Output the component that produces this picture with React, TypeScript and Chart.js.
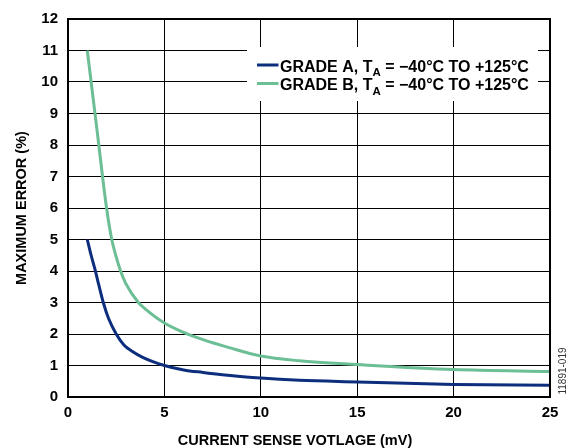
import React, { useEffect, useRef } from "react";
import { Chart, registerables } from "chart.js";

Chart.register(...registerables);

// Grade A series
const xA = [1, 1.2, 1.4, 1.6, 1.83, 2.1, 2.5, 2.9, 3.3, 3.9, 5, 6, 7, 8, 10, 12, 15, 20, 25];
const yA = [5.0, 4.5, 4.05, 3.55, 3.0, 2.5, 2.0, 1.65, 1.46, 1.25, 1.0, 0.86, 0.78, 0.71, 0.6, 0.53, 0.48, 0.4, 0.37];
// Grade B series
const xB = [1, 1.5, 2, 2.27, 2.5, 2.7, 3, 3.65, 4, 5, 6, 7, 8.4, 10, 12, 15, 20, 25];
const yB = [11, 8.5, 6.0, 5.0, 4.45, 4.05, 3.6, 3.0, 2.8, 2.35, 2.05, 1.82, 1.56, 1.3, 1.15, 1.03, 0.87, 0.81];

const xTicks = [0, 5, 10, 15, 20, 25];
const yTicks = [0, 1, 2, 3, 4, 5, 6, 7, 8, 9, 10, 11, 12];
const legendMain = ["GRADE A, T", "GRADE B, T"];
const legendSub = "A";
const legendTail = " = \u221240\u00B0C TO +125\u00B0C";
const xTitle = "CURRENT SENSE VOTLAGE (mV)";
const yTitle = "MAXIMUM ERROR (%)";
const figId = "11891-019";

const BLUE = "rgb(12,46,125)";
const GREEN = "rgb(108,190,148)";
const FONT = "'Liberation Sans', Arial, sans-serif";

const overlay = {
  id: "overlay",
  afterDraw(chart: any) {
    const { ctx, chartArea } = chart;
    ctx.save();
    // legend box
    ctx.fillStyle = "#fff";
    ctx.fillRect(247, 47, 291, 54);
    const colors = [BLUE, GREEN];
    const baselines = [71.5, 90];
    for (let i = 0; i < 2; i++) {
      const b = baselines[i];
      ctx.strokeStyle = colors[i];
      ctx.lineWidth = 3;
      ctx.beginPath();
      ctx.moveTo(257, b - 6.5);
      ctx.lineTo(278.5, b - 6.5);
      ctx.stroke();
      ctx.fillStyle = "#000";
      ctx.textBaseline = "alphabetic";
      ctx.textAlign = "left";
      ctx.font = `bold 16px ${FONT}`;
      let x = 280;
      ctx.fillText(legendMain[i], x, b);
      x += ctx.measureText(legendMain[i]).width;
      ctx.font = `bold 11.5px ${FONT}`;
      ctx.fillText(legendSub, x, b + 4.5);
      x += ctx.measureText(legendSub).width;
      ctx.font = `bold 16px ${FONT}`;
      ctx.fillText(legendTail, x, b);
    }
    // frame
    ctx.strokeStyle = "#000";
    ctx.lineWidth = 2;
    ctx.strokeRect(chartArea.left, chartArea.top, chartArea.right - chartArea.left, chartArea.bottom - chartArea.top);
    // x axis title
    ctx.font = `bold 14.5px ${FONT}`;
    ctx.fillStyle = "#000";
    ctx.textAlign = "center";
    ctx.textBaseline = "alphabetic";
    ctx.fillText(xTitle, 295, 444.5);
    // figure id
    ctx.translate(563.5, 371);
    ctx.rotate(-Math.PI / 2);
    ctx.font = `10px ${FONT}`;
    ctx.fillStyle = "#333";
    ctx.textAlign = "center";
    ctx.textBaseline = "middle";
    ctx.fillText(figId, 0, 0);
    ctx.restore();
  },
};

export default function App() {
  const ref = useRef<HTMLCanvasElement>(null);
  useEffect(() => {
    if (!ref.current) return;
    const chart = new Chart(ref.current, {
      type: "line",
      data: {
        datasets: [
          {
            label: "GRADE A",
            data: xA.map((x, i) => ({ x, y: yA[i] })),
            borderColor: BLUE,
            borderWidth: 3,
            pointRadius: 0,
            cubicInterpolationMode: "monotone",
            fill: false,
          },
          {
            label: "GRADE B",
            data: xB.map((x, i) => ({ x, y: yB[i] })),
            borderColor: GREEN,
            borderWidth: 3,
            pointRadius: 0,
            cubicInterpolationMode: "monotone",
            fill: false,
          },
        ],
      },
      options: {
        responsive: false,
        animation: false,
        layout: { padding: { top: 11, right: 21, left: 0, bottom: 0 } },
        plugins: { legend: { display: false }, tooltip: { enabled: false } },
        scales: {
          x: {
            type: "linear",
            min: 0,
            max: 25,
            afterBuildTicks: (s: any) => {
              s.ticks = xTicks.map((v) => ({ value: v }));
            },
            afterFit: (s: any) => {
              s.height = 51;
            },
            ticks: {
              color: "#000",
              font: { family: FONT, size: 15, weight: "bold" },
              padding: 7,
              maxRotation: 0,
            },
            grid: { color: "#000", lineWidth: 1, drawTicks: false },
            border: { display: false },
            title: { display: false, text: xTitle },
          },
          y: {
            min: 0,
            max: 12,
            afterBuildTicks: (s: any) => {
              s.ticks = yTicks.map((v) => ({ value: v }));
            },
            afterFit: (s: any) => {
              s.width = 68;
            },
            ticks: {
              color: "#000",
              font: { family: FONT, size: 15, weight: "bold" },
              padding: 10,
            },
            grid: { color: "#000", lineWidth: 1, drawTicks: false },
            border: { display: false },
            title: {
              display: true,
              text: yTitle,
              color: "#000",
              font: { family: FONT, size: 14.5, weight: "bold" },
              padding: { top: 13, bottom: 13 },
            },
          },
        },
      },
      plugins: [overlay],
    } as any);
    return () => chart.destroy();
  }, []);
  return (
    <div style={{ position: "absolute", left: 0, top: 0, width: 571, height: 448, background: "#fff" }}>
      <canvas ref={ref} width={571} height={448} style={{ display: "block" }} />
    </div>
  );
}
